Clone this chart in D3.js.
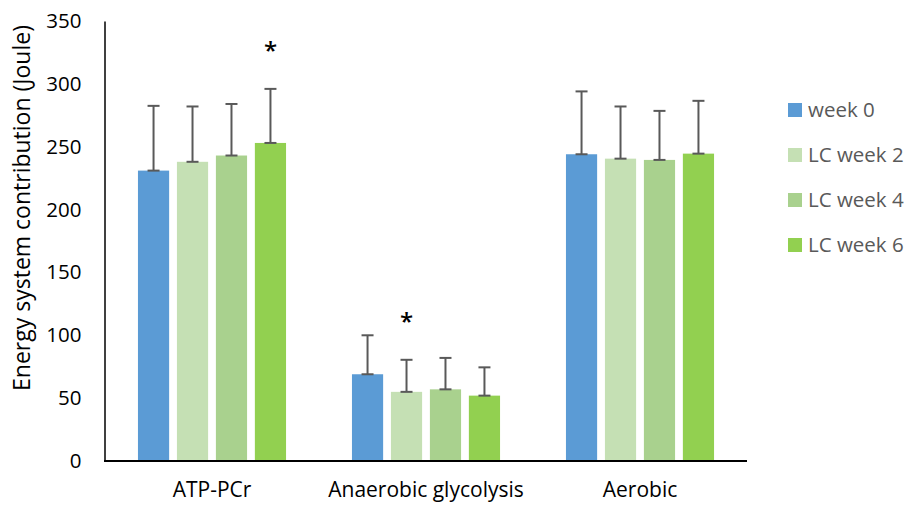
<!DOCTYPE html>
<html>
<head>
<meta charset="utf-8">
<script src="https://cdn.jsdelivr.net/npm/d3@7"></script>
<style>
  html, body { margin: 0; padding: 0; background: #fff; }
  svg { display: block; }
  text { font-family: "Open Sans", sans-serif; }
</style>
</head>
<body>
<svg id="chart" width="907" height="505"></svg>
<script>
// Energy system contributions per training phase
const categories = ["ATP-PCr", "Anaerobic glycolysis", "Aerobic"];
const seriesNames = ["week 0", "LC week 2", "LC week 4", "LC week 6"];
const seriesColors = ["#5B9BD5", "#C5E0B4", "#A9D18E", "#92D050"];

// Means per series, one value per category
const week0 = [231, 69, 244];
const lcWeek2 = [238, 55, 240.5];
const lcWeek4 = [243, 57, 239.5];
const lcWeek6 = [253, 52, 244.5];

// Standard deviations (upper error bars)
const sdWeek0 = [51.5, 31, 50];
const sdLcWeek2 = [44, 25.5, 41.5];
const sdLcWeek4 = [41, 25, 39];
const sdLcWeek6 = [43, 22.5, 42];

const yTicks = [0, 50, 100, 150, 200, 250, 300, 350];

// Significance markers: [category index, series index]
const significant = [[0, 3], [1, 1]];

const means = [week0, lcWeek2, lcWeek4, lcWeek6];
const sds = [sdWeek0, sdLcWeek2, sdLcWeek4, sdLcWeek6];

const svg = d3.select("#chart");
const plot = { left: 105, right: 747, top: 21, bottom: 461 };

const y = d3.scaleLinear().domain([0, 350]).range([plot.bottom, plot.top]);

const x0 = d3.scaleBand()
  .domain(categories)
  .range([plot.left, plot.right])
  .paddingInner(0.308)
  .paddingOuter(0.154);

const x1 = d3.scaleBand()
  .domain(seriesNames)
  .range([0, x0.bandwidth()])
  .paddingInner(0.2)
  .paddingOuter(0);

const rows = [];
categories.forEach((c, ci) => {
  seriesNames.forEach((s, si) => {
    rows.push({ cat: c, ci, series: s, si, value: means[si][ci], sd: sds[si][ci] });
  });
});

// Bars
svg.append("g").selectAll("rect")
  .data(rows)
  .join("rect")
  .attr("x", d => x0(d.cat) + x1(d.series))
  .attr("y", d => y(d.value))
  .attr("width", x1.bandwidth())
  .attr("height", d => y(0) - y(d.value))
  .attr("fill", d => seriesColors[d.si]);

// Error bars (mean to mean + SD, capped at both ends)
const capHalf = 6;
const eb = svg.append("g")
  .attr("stroke", "#595959")
  .attr("stroke-width", 2)
  .selectAll("g")
  .data(rows)
  .join("g")
  .attr("transform", d => `translate(${x0(d.cat) + x1(d.series) + x1.bandwidth() / 2},0)`);
eb.append("line")
  .attr("x1", 0).attr("x2", 0)
  .attr("y1", d => y(d.value)).attr("y2", d => y(d.value + d.sd));
eb.append("line")
  .attr("x1", -capHalf).attr("x2", capHalf)
  .attr("y1", d => y(d.value + d.sd)).attr("y2", d => y(d.value + d.sd));
eb.append("line")
  .attr("x1", -capHalf).attr("x2", capHalf)
  .attr("y1", d => y(d.value)).attr("y2", d => y(d.value));

// Asterisks above significant bars
svg.append("g").selectAll("text")
  .data(significant)
  .join("text")
  .attr("x", d => x0(categories[d[0]]) + x1(seriesNames[d[1]]) + x1.bandwidth() / 2)
  .attr("y", d => y(means[d[1]][d[0]] + sds[d[1]][d[0]]) - 30)
  .attr("text-anchor", "middle")
  .attr("font-size", 24)
  .attr("font-weight", 600)
  .attr("fill", "#000")
  .text("*");

// Y axis
const yAxis = d3.axisLeft(y).tickValues(yTicks).tickSize(0).tickPadding(23);
const gy = svg.append("g")
  .attr("transform", `translate(${plot.left - 0.5},0)`)
  .call(yAxis);
gy.select(".domain").attr("stroke", "#000").attr("stroke-width", 1.5);
gy.selectAll("text")
  .attr("font-family", "Open Sans, sans-serif")
  .attr("font-size", 20.5)
  .attr("fill", "#000");

// X axis
const xAxis = d3.axisBottom(x0).tickSize(0).tickPadding(21);
const gx = svg.append("g")
  .attr("transform", `translate(0,${plot.bottom})`)
  .call(xAxis);
gx.select(".domain").attr("stroke", "#000").attr("stroke-width", 2)
  .attr("d", `M${plot.left - 1},0H${plot.right}`);
gx.selectAll("text")
  .attr("font-family", "Open Sans, sans-serif")
  .attr("font-size", 21)
  .attr("fill", "#000");

// Y axis title
svg.append("text")
  .attr("transform", `translate(30,208) rotate(-90)`)
  .attr("text-anchor", "middle")
  .attr("font-size", 23)
  .attr("fill", "#000")
  .text("Energy system contribution (Joule)");

// Legend
const legend = svg.append("g").selectAll("g")
  .data(seriesNames)
  .join("g")
  .attr("transform", (d, i) => `translate(788,${110 + i * 45})`);
legend.append("rect")
  .attr("x", 0).attr("y", -7)
  .attr("width", 14).attr("height", 14)
  .attr("fill", (d, i) => seriesColors[i]);
legend.append("text")
  .attr("x", 20).attr("y", 0)
  .attr("dy", "0.35em")
  .attr("font-size", 20.5)
  .attr("fill", "#595959")
  .text(d => d);
</script>
</body>
</html>
